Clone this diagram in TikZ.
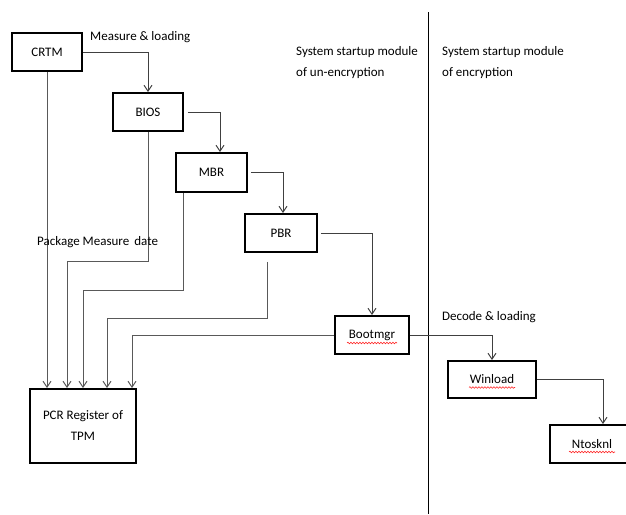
\documentclass[tikz,border=0pt]{standalone}
\usepackage{fontspec}
\setmainfont{Carlito}
\usetikzlibrary{arrows.meta,decorations.pathmorphing}
\begin{document}
\begin{tikzpicture}[x=1pt,y=-1pt,
  box/.style={draw=black,line width=1.8pt,fill=white,inner sep=0pt,font=\fontsize{13}{15}\selectfont},
  flow/.style={draw=black!75,line width=1pt,-{Straight Barb[length=6pt,width=8pt]}},
  meas/.style={draw=black!65,line width=1pt,-{Straight Barb[length=6pt,width=8pt]}},
  lbl/.style={anchor=west,inner sep=0pt,font=\fontsize{13}{21}\selectfont,align=left},
  spell/.style={draw=red!85,line width=0.6pt,decorate,decoration={snake,amplitude=0.8pt,segment length=3pt}}]
\useasboundingbox[fill=white] (0,0) rectangle (626,514);
% divider
\draw[line width=1pt,black] (428,12) -- (428,514);
% nodes
\node[box,minimum width=70pt,minimum height=38pt] (CRTM) at (47,52) {CRTM};
\node[box,minimum width=70pt,minimum height=38pt] (BIOS) at (148,112) {BIOS};
\node[box,minimum width=71pt,minimum height=39pt] (MBR) at (211.5,172.5) {MBR};
\node[box,minimum width=72pt,minimum height=38pt] (PBR) at (281,233) {PBR};
\node[box,minimum width=74pt,minimum height=38pt] (Bootmgr) at (372,335) {Bootmgr};
\node[box,minimum width=88pt,minimum height=37pt] (Winload) at (492,379.5) {Winload};
\node[box,minimum width=84pt,minimum height=38pt] (Ntosknl) at (592,444) {Ntosknl};
\node[box,minimum width=106pt,minimum height=74pt,align=center,font=\fontsize{13}{21}\selectfont] (PCR) at (83,426) {PCR Register of\\TPM};
% spell-check underlines
\draw[spell] ([xshift=-25pt,yshift=-8pt]Bootmgr.center) -- ([xshift=25pt,yshift=-8pt]Bootmgr.center);
\draw[spell] ([xshift=-23pt,yshift=-8pt]Winload.center) -- ([xshift=23pt,yshift=-8pt]Winload.center);
\draw[spell] ([xshift=-23pt,yshift=-8pt]Ntosknl.center) -- ([xshift=23pt,yshift=-8pt]Ntosknl.center);
% loading chain
\draw[flow] (CRTM.east) -| (BIOS.north);
\draw[flow] ([xshift=4pt]BIOS.east) -| ([xshift=8.5pt]MBR.north);
\draw[flow] ([xshift=3pt]MBR.east) -| ([xshift=2pt]PBR.north);
\draw[flow] ([xshift=3pt]PBR.east) -| (Bootmgr.north);
\draw[flow] (Bootmgr.east) -| (Winload.north);
\draw[flow] (Winload.east) -| ([xshift=11pt]Ntosknl.north);
% measurement lines
\draw[meas] (CRTM.south) -- ([xshift=-36pt]PCR.north);
\draw[meas] (BIOS.south) -- ++(0,130) -| ([xshift=-16pt]PCR.north);
\draw[meas] ([xshift=-28.5pt]MBR.south) -- ++(0,98) -| (PCR.north);
\draw[meas] ([xshift=-14pt,yshift=-9pt]PBR.south) -- ++(0,57) -| ([xshift=24pt]PCR.north);
\draw[meas] (Bootmgr.west) -| ([xshift=49pt]PCR.north);
% labels
\node[lbl] (l1) at (90,37) {Measure \& loading};
\node[lbl] (l2) at (37,242) {Package Measure\, date};
\node[lbl] (l3) at (296,62.5) {System startup module\\of un-encryption};
\node[lbl] (l4) at (442,62.5) {System startup module\\of encryption};
\node[lbl] (l5) at (442,317) {Decode \& loading};
\end{tikzpicture}
\end{document}
